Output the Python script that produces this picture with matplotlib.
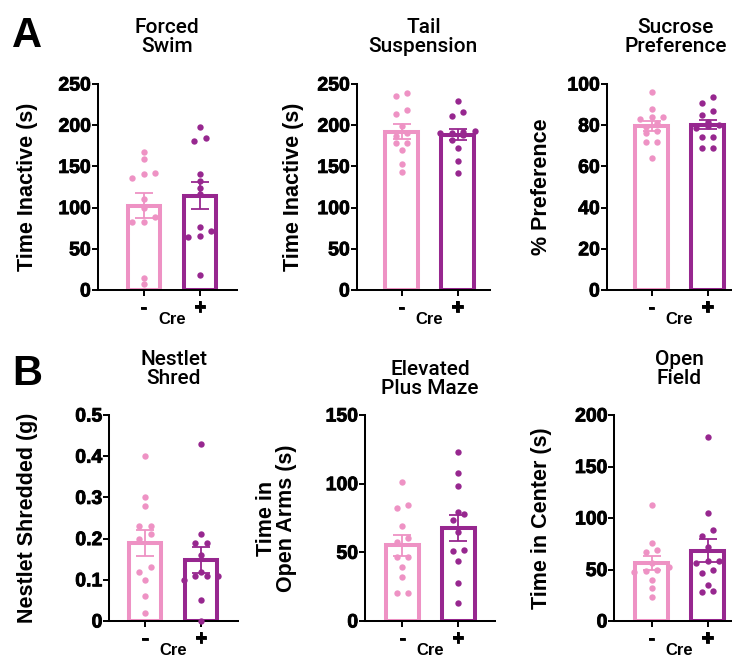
import matplotlib.pyplot as plt
import matplotlib.patheffects as pe
import numpy as np

plt.rcParams['font.family'] = ['Liberation Sans', 'DejaVu Sans']
plt.rcParams['font.weight'] = 'bold'
plt.rcParams['axes.labelweight'] = 'bold'

groups = ['-', '+']
pink = '#EE92C4'
purple = '#97278F'

# values (one dot per animal)
fs_neg = [167, 159, 142, 141, 136, 110, 99, 89, 82, 82, 15, 7]
fs_pos = [198, 184, 181, 141, 132, 124, 116, 76, 71, 66, 64, 18]
ts_neg = [239, 235, 219, 214, 199, 191, 187, 179, 179, 170, 153, 143]
ts_pos = [229, 216, 211, 193, 192, 191, 190, 188, 182, 172, 157, 142]
sp_neg = [96, 88, 84, 84, 83, 81, 79, 77, 76, 72, 72, 64]
sp_pos = [93.7, 91, 86.7, 85, 81.7, 80, 79.6, 78.5, 74.4, 74.4, 68.8, 68.8]
ns_neg = [0.40, 0.30, 0.28, 0.23, 0.23, 0.21, 0.20, 0.13, 0.12, 0.10, 0.06, 0.02]
ns_pos = [0.43, 0.21, 0.19, 0.19, 0.16, 0.12, 0.11, 0.11, 0.11, 0.10, 0.05, 0.0]
epm_neg = [101.5, 84.7, 82, 69.2, 60.2, 57.3, 46.8, 46.8, 39.6, 32.3, 20.1, 20.1]
epm_pos = [123, 108, 98, 79.6, 77.7, 73.5, 65, 51.7, 51.2, 43.9, 27.4, 13.3]
of_neg = [113, 76, 69, 67, 56, 52, 50, 49, 48, 40, 32, 23]
of_pos = [179, 104.5, 88.3, 82.8, 71.5, 58.3, 57.9, 56.6, 49.5, 47, 35, 29.4, 28.5]

titles = ['Forced\nSwim', 'Tail\nSuspension', 'Sucrose\nPreference',
          'Nestlet\nShred', 'Elevated\nPlus Maze', 'Open\nField']
ylabels = ['Time Inactive (s)', 'Time Inactive (s)', '% Preference',
           'Nestlet Shredded (g)', 'Time in\nOpen Arms (s)', 'Time in Center (s)']
yticks = [[0, 50, 100, 150, 200, 250], [0, 50, 100, 150, 200, 250],
          [0, 20, 40, 60, 80, 100], [0, 0.1, 0.2, 0.3, 0.4, 0.5],
          [0, 50, 100, 150], [0, 50, 100, 150, 200]]
yticklabels = [None, None, None, ['0', '0.1', '0.2', '0.3', '0.4', '0.5'], None, None]
data = [(fs_neg, fs_pos), (ts_neg, ts_pos), (sp_neg, sp_pos),
        (ns_neg, ns_pos), (epm_neg, epm_pos), (of_neg, of_pos)]

W, H = 732, 659
PX = 56.0      # px per category unit
AH = 206.0     # axes height, px
# layout in pixels: spine x, bottom y, xlim left, xlim right, title pad, ylabel right edge
layout = [
    (97.7, 290, -0.823, 1.66, 23, 38),
    (356.7, 290, -0.80, 1.58, 23, 304),
    (606.7, 290, -0.80, 1.66, 23, 552),
    (109.3, 621, -0.64, 1.66, 22, 38),
    (365.0, 621, -0.666, 1.655, 15, 297),
    (614.3, 621, -0.667, 1.66, 22, 552),
]

heavy = [pe.withStroke(linewidth=0.6, foreground='black')]


def swarm(vals, ymax, step=11.5, row=6.0):
    ypx = np.asarray(vals, float) / ymax * AH
    order = np.argsort(ypx)
    off = np.zeros(len(ypx))
    rows, cur = [], [order[0]]
    for i in order[1:]:
        if ypx[i] - ypx[cur[0]] < row:
            cur.append(i)
        else:
            rows.append(cur)
            cur = [i]
    rows.append(cur)
    for r in rows:
        n = len(r)
        for k, i in enumerate(r):
            off[i] = (k - (n - 1) / 2) * step / PX
    return off


fig = plt.figure(figsize=(W / 100, H / 100), dpi=100)

for p in range(6):
    sx, by, xl, xr, tpad, lab_r = layout[p]
    wpx = (xr - xl) * PX
    ax = fig.add_axes([sx / W, (H - by) / H, wpx / W, AH / H])
    ymax = yticks[p][-1]
    for g, (vals, c) in enumerate(zip(data[p], [pink, purple])):
        vals = np.asarray(vals, float)
        m = vals.mean()
        sem = vals.std(ddof=1) / np.sqrt(len(vals))
        ax.bar(g, m, width=0.58, facecolor='white', edgecolor=c, linewidth=2.9, zorder=1)
        ax.scatter(g + swarm(vals, ymax), vals, s=21, color=c, linewidths=0, zorder=3,
                   clip_on=False)
        ax.errorbar(g, m, yerr=sem, color=c, elinewidth=1.3, capsize=6.5, capthick=1.3,
                    zorder=4)
    ax.set_xlim(xl, xr)
    ax.set_ylim(0, ymax)
    ylbl = yticklabels[p] or [str(v) for v in yticks[p]]
    ax.set_yticks(yticks[p])
    ax.set_yticklabels(ylbl)
    ax.set_xticks([0, 1])
    ax.set_xticklabels(groups)
    for s in ['top', 'right']:
        ax.spines[s].set_visible(False)
    for s in ['left', 'bottom']:
        ax.spines[s].set_linewidth(1.45)
    ax.tick_params(axis='both', length=4, width=1.4, pad=1, labelsize=14)
    ax.tick_params(axis='x', pad=2, labelsize=15)
    ax.set_title(titles[p], fontsize=15, fontweight='medium', family='Roboto',
                 pad=tpad, linespacing=1.0)
    ax.set_ylabel(ylabels[p], fontsize=15.5, fontweight='bold', linespacing=0.95)
    ax.yaxis.set_label_coords((lab_r - sx) / wpx, 0.5)
    ax.set_xlabel('Cre', fontsize=12, fontweight='bold')
    ax.xaxis.set_label_coords((0.5 - xl) / (xr - xl), -22 / AH)

fig.text(12 / W, 1 - 47 / H, 'A', fontsize=30, fontweight='bold', va='baseline')
fig.text(12 / W, 1 - 385 / H, 'B', fontsize=30, fontweight='bold', va='baseline')

# the reference uses a heavier face than Liberation Bold, thicken tick labels a bit
fig.canvas.draw()
for ax in fig.axes:
    for t in ax.get_xticklabels() + ax.get_yticklabels():
        t.set_path_effects(heavy)

fig.savefig('out.png', dpi=100)
